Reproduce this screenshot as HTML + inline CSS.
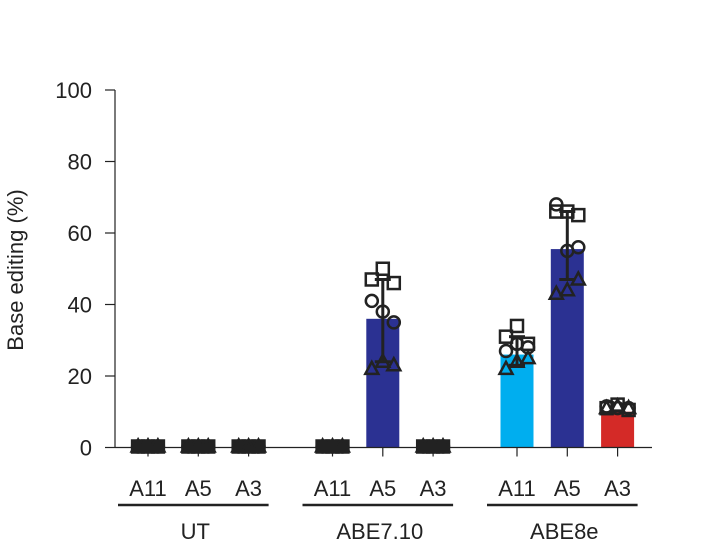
<!DOCTYPE html>
<html><head><meta charset="utf-8"><style>
body{margin:0;background:#fff;}
svg text{font-family:"Liberation Sans",sans-serif;fill:#222;}
</style></head><body>
<svg id="chart" width="702" height="549" viewBox="0 0 702 549" xmlns="http://www.w3.org/2000/svg"></svg>
<script>
const groups = ["UT","ABE7.10","ABE8e"];
const sites = ["A11","A5","A3"];
const barValues = [[0,0,0],[0,36,0],[26,55.5,10]];
const squarePts = [[[0.5,0.5,0.5],[0.5,0.5,0.5],[0.5,0.5,0.5]],[[0.5,0.5,0.5],[47,50,46],[0.5,0.5,0.5]],[[31,34,29],[66,66,65],[11,12,10.5]]];
const circlePts = [[[0.5,0.5,0.5],[0.5,0.5,0.5],[0.5,0.5,0.5]],[[0.5,0.5,0.5],[41,38,35],[1,0.5,0.5]],[[27,29,28],[68,55,56],[11.5,11,11]]];
const trianglePts = [[[0.5,0.5,0.5],[0.5,0.5,0.5],[0.5,0.5,0.5]],[[0.5,0.5,0.5],[22,24,23],[0.5,0.5,0.5]],[[22,24,25],[43,44,47],[11,11.5,11]]];
const errLow = [[0,0,0],[0,24,0],[23,47,10.5]];
const errHigh = [[0,0,0],[0,47,0],[31,66,12]];
const yTicks = [0,20,40,60,80,100];
const barColors = [["#222","#222","#222"],["#222","#2b3192","#222"],["#00aeef","#2b3192","#d42a27"]];

const NS="http://www.w3.org/2000/svg";
const svg=document.getElementById('chart');
const y0=447.5, yTop=90, x0=115;
const y=v=>y0-(v/100)*(y0-yTop);
const x=(g,s)=>148+g*184.5+s*50.3;
function el(tag,attrs,parent){const e=document.createElementNS(NS,tag);for(const k in attrs)e.setAttribute(k,attrs[k]);(parent||svg).appendChild(e);return e;}

barValues.forEach((row,g)=>row.forEach((v,s)=>{
  if(v<=0.5) return;
  const b=el('rect',{x:x(g,s)-16.5,y:y(v),width:33,height:y0-y(v),fill:barColors[g][s]});
  
  
}));

const ya=el('line',{x1:x0,y1:yTop,x2:x0,y2:y0,stroke:'#222','stroke-width':1.2});


const xa=el('line',{x1:x0,y1:y0,x2:652,y2:y0,stroke:'#222','stroke-width':1.2});


yTicks.forEach(t=>{
  el('line',{x1:105,y1:y(t),x2:x0,y2:y(t),stroke:'#222','stroke-width':1.2});
  const tx=el('text',{x:92,y:y(t)+8,'font-size':22,'text-anchor':'end'});
  tx.textContent=t;
  
  
});
const yt=el('text',{x:0,y:0,'font-size':22,'text-anchor':'middle',transform:'translate(23,270) rotate(-90)'});
yt.textContent='Base editing (%)';



groups.forEach((gname,g)=>{
  sites.forEach((sname,s)=>{
    el('line',{x1:x(g,s),y1:y0,x2:x(g,s),y2:y0+9,stroke:'#222','stroke-width':1.2});
    const t=el('text',{x:x(g,s),y:496,'font-size':22,'text-anchor':'middle'});
    t.textContent=sname;
    
    
  });
  const ul=el('line',{x1:x(g,0)-30,y1:505,x2:x(g,2)+20,y2:505,stroke:'#222','stroke-width':2.5});
  
  
  const gl=el('text',{x:x(g,1)-3,y:539,'font-size':22,'text-anchor':'middle'});
  gl.textContent=gname;
  
  
});

groups.forEach((gname,g)=>sites.forEach((sname,s)=>{
  if(errHigh[g][s]-errLow[g][s]<2) return;
  const cx=x(g,s);
  el('line',{x1:cx,y1:y(errLow[g][s]),x2:cx,y2:y(errHigh[g][s]),stroke:'#222','stroke-width':3});
  el('line',{x1:cx-8,y1:y(errLow[g][s]),x2:cx+8,y2:y(errLow[g][s]),stroke:'#222','stroke-width':3});
  el('line',{x1:cx-8,y1:y(errHigh[g][s]),x2:cx+8,y2:y(errHigh[g][s]),stroke:'#222','stroke-width':3});
}));

const offs=[-11,0,11];
function marker(kind,cx,cy,near0){
  const fill=near0?'#222':'none';
  let m;
  if(kind==='sq') m=el('rect',{x:cx-6,y:cy-6,width:12,height:12,fill:fill,stroke:'#222','stroke-width':2.5});
  else if(kind==='ci') m=el('circle',{cx:cx,cy:cy,r:6,fill:fill,stroke:'#222','stroke-width':2.5});
  else m=el('polygon',{points:`${cx},${cy-7} ${cx+6.5},${cy+5} ${cx-6.5},${cy+5}`,fill:fill,stroke:'#222','stroke-width':2.5});
  
  
}
groups.forEach((gname,g)=>sites.forEach((sname,s)=>{
  [[squarePts,'sq'],[circlePts,'ci'],[trianglePts,'tr']].forEach(([arr,k])=>{
    arr[g][s].forEach((v,i)=>{
      const near0=v<2;
      const cy=near0?y0-1:y(v);
      marker(k,x(g,s)+offs[i]*(near0?0.9:1),cy,near0);
    });
  });
}));
</script>
</body></html>
